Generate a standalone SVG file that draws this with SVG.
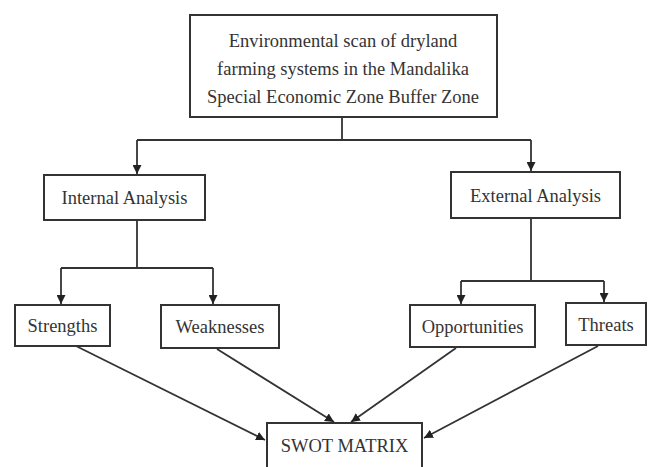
<svg xmlns="http://www.w3.org/2000/svg" width="648" height="467" viewBox="0 0 648 467">
<defs>
<style>
.box{fill:#fff;stroke:#333;stroke-width:2}
.t{font-family:"Liberation Serif","DejaVu Serif",serif;font-size:18.5px;fill:#333;text-anchor:middle}
.c{fill:none;stroke:#333;stroke-width:1.8}
</style>
<marker id="ah" viewBox="0 0 10 10" refX="10" refY="5" markerWidth="5" markerHeight="5" orient="auto" markerUnits="strokeWidth">
<path d="M0,0 L10,5 L0,10 z" fill="#222"/>
</marker>
</defs>
<rect width="648" height="467" fill="#fff"/>
<g id="connectors">
<path class="c" d="M342,117 V140 M137,140 H531"/>
<path class="c" d="M137,140 V174" marker-end="url(#ah)"/>
<path class="c" d="M531,140 V171" marker-end="url(#ah)"/>
<path class="c" d="M137,220 V268 M61,268 H213"/>
<path class="c" d="M61,268 V304" marker-end="url(#ah)"/>
<path class="c" d="M213,268 V304" marker-end="url(#ah)"/>
<path class="c" d="M531,218 V281 M461,281 H604"/>
<path class="c" d="M461,281 V304" marker-end="url(#ah)"/>
<path class="c" d="M604,281 V302" marker-end="url(#ah)"/>
<path class="c" d="M76,346 L265,440" marker-end="url(#ah)"/>
<path class="c" d="M217,349 L334,422" marker-end="url(#ah)"/>
<path class="c" d="M456,348 L351,422" marker-end="url(#ah)"/>
<path class="c" d="M598,346 L424,438" marker-end="url(#ah)"/>
</g>
<g id="scan">
<rect class="box" x="190" y="15" width="307" height="102"/>
<text class="t" x="343" y="47">Environmental scan of dryland</text>
<text class="t" x="343" y="75">farming systems in the Mandalika</text>
<text class="t" x="343" y="103">Special Economic Zone Buffer Zone</text>
</g>
<g id="internal">
<rect class="box" x="44" y="175" width="161" height="45"/>
<text class="t" x="124.5" y="204">Internal Analysis</text>
</g>
<g id="external">
<rect class="box" x="451" y="172" width="169" height="46"/>
<text class="t" x="535.5" y="202">External Analysis</text>
</g>
<g id="strengths">
<rect class="box" x="15" y="305" width="95" height="41"/>
<text class="t" x="62.5" y="332">Strengths</text>
</g>
<g id="weaknesses">
<rect class="box" x="161" y="305" width="118" height="43"/>
<text class="t" x="220" y="333">Weaknesses</text>
</g>
<g id="opportunities">
<rect class="box" x="410" y="305" width="125" height="42"/>
<text class="t" x="472.5" y="333">Opportunities</text>
</g>
<g id="threats">
<rect class="box" x="566" y="303" width="80" height="42"/>
<text class="t" x="606" y="331">Threats</text>
</g>
<g id="swot">
<rect class="box" x="267" y="423" width="155" height="50"/>
<text class="t" x="344.5" y="452">SWOT MATRIX</text>
</g>
</svg>
